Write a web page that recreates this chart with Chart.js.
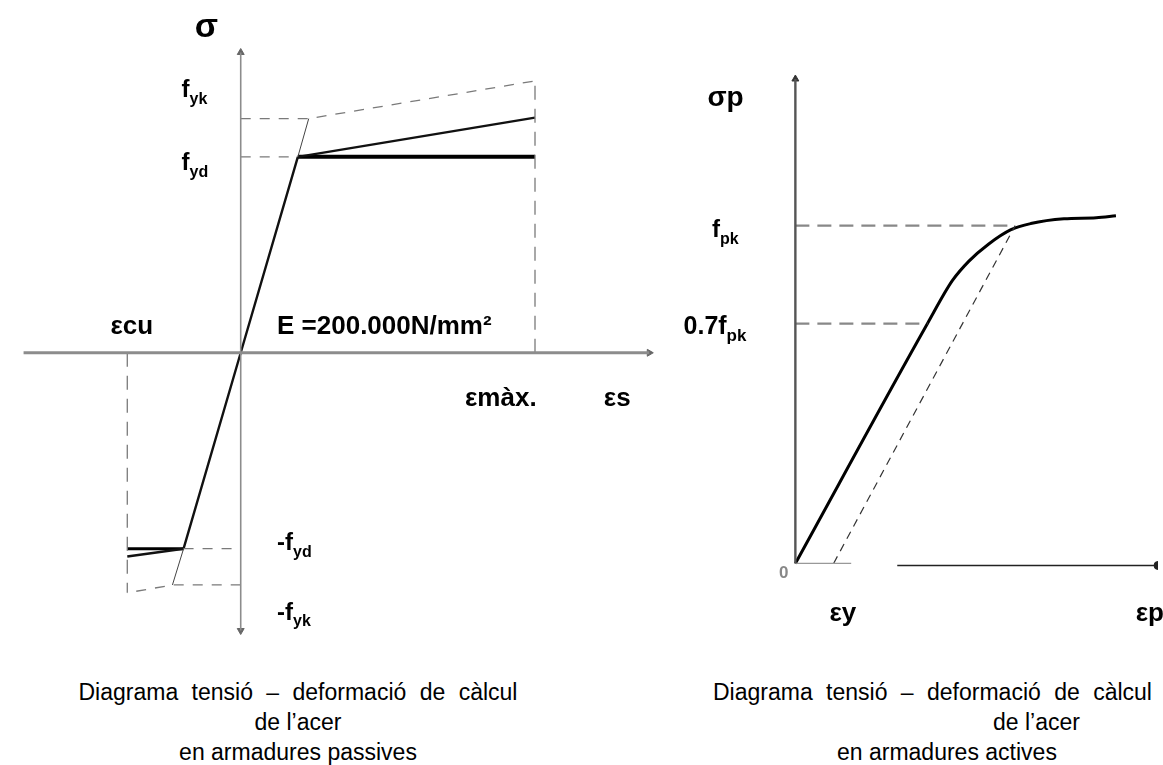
<!DOCTYPE html>
<html>
<head>
<meta charset="utf-8">
<script src="https://cdn.jsdelivr.net/npm/chart.js@4.4.1/dist/chart.umd.min.js"></script>
<style>
  body { margin: 0; background: #fff; width: 1163px; height: 765px; overflow: hidden; position: relative; }
  canvas { position: absolute; top: 0; }
  #passive { left: 0; }
  #active { left: 660px; }
  .cap { position: absolute; font-family: "Liberation Sans", Arial, sans-serif; font-size: 23px; color: #000;
         white-space: nowrap; line-height: 30px; }
  .wide { word-spacing: 7px; }
</style>
</head>
<body>
<canvas id="passive" width="660" height="660"></canvas>
<canvas id="active" width="503" height="660"></canvas>

<div class="cap wide" style="left:0;width:596px;text-align:center;top:677px">Diagrama tensió – deformació de càlcul</div>
<div class="cap" style="left:0;width:596px;text-align:center;top:707px">de l’acer</div>
<div class="cap" style="left:0;width:596px;text-align:center;top:737px">en armadures passives</div>
<div class="cap wide" style="left:713px;top:677px">Diagrama tensió – deformació de càlcul</div>
<div class="cap" style="left:993px;top:707px">de l’acer</div>
<div class="cap" style="left:837px;top:737px">en armadures actives</div>

<script>
// ---- passive steel (strain in ‰, stress in N/mm²) ----
const elasticX = [-2, 0, 2];
const elasticY = [-400, 0, 400];
const plateauX = [2, 10.3];
const plateauY = [400, 400];
const hardenX = [2, 10.3];
const hardenY = [400, 480];
const elasticExtX = [2, 2.38];
const elasticExtY = [400, 478];
const fykLineX = [0, 2.38, 10.3];
const fykLineY = [478, 478, 555];
const fydGuideX = [0, 2];
const fydGuideY = [400, 400];
const epsMaxGuideX = [10.3, 10.3];
const epsMaxGuideY = [0, 555];
const negPlateauX = [-2, -3.97];
const negPlateauY = [-400, -400];
const negHardenX = [-2, -3.97];
const negHardenY = [-400, -416];
const negElasticExtX = [-2, -2.39];
const negElasticExtY = [-400, -474];
const negFykLineX = [0, -2.39, -3.97];
const negFykLineY = [-474, -474, -490];
const negFydGuideX = [-2, 0];
const negFydGuideY = [-400, -400];
const epsCuGuideX = [-3.97, -3.97];
const epsCuGuideY = [0, -490];
const passiveAxisX = [-7.6, 14.3];
const passiveAxisY = [-567, 613];

const passiveLabels = ['σ', 'f_yk', 'f_yd', 'εcu', 'E =200.000N/mm²', 'εmàx.', 'εs', '-f_yd', '-f_yk'];
const passiveLabelX = [-1.2, -2.07, -2.07, -4.56, 1.27, 7.85, 12.71, 1.27, 1.27];
const passiveLabelY = [664, 535, 386, 52, 52, -95, -95, -390, -532];

// ---- active steel (strain in ‰, stress as fraction of fpk) ----
const curveX = [0, 6.92, 8.21, 9.08, 10.10, 11.28, 12.31, 14.05, 15.74, 16.77];
const curveY = [0, 0.711, 0.837, 0.895, 0.945, 0.988, 1.006, 1.020, 1.023, 1.029];
const offsetX = [2, 11.5];
const offsetY = [0, 1.0];
const fpkGuideX = [0, 11.5];
const fpkGuideY = [1.0, 1.0];
const f07GuideX = [0, 6.92];
const f07GuideY = [0.71, 0.71];
const activeAxisTop = 1.434;
const activeXAxisX = [5.33, 18.97];
const baseStubX = [0, 2.92];

const activeLabels = ['σp', 'f_pk', '0.7f_pk', '0', 'εy', 'εp'];
const activeLabelX = [-4.6, -4.36, -5.85, -0.85, 1.78, 17.8];
const activeLabelY = [1.376, 0.985, 0.70, -0.029, -0.149, -0.149];

const pts = (xs, ys) => xs.map((x, i) => ({ x: x, y: ys[i] }));

function line(xs, ys, color, width, dash) {
    return {
        data: pts(xs, ys),
        showLine: true,
        borderColor: color,
        borderWidth: width,
        borderDash: dash || [],
        pointRadius: 0,
        fill: false
    };
}

function arrows(xs, ys, rot, color, r) {
    return {
        data: pts(xs, ys),
        showLine: false,
        pointStyle: 'triangle',
        pointRotation: rot,
        pointRadius: r,
        backgroundColor: color,
        borderColor: color,
        borderWidth: 1
    };
}

// label text: "_" starts a subscript
function drawLabel(ctx, text, px, py, size, align, color) {
    const [main, sub] = text.split('_');
    const mainFont = 'bold ' + size + 'px "Liberation Sans"';
    const subFont = 'bold ' + Math.round(size * 0.66) + 'px "Liberation Sans"';
    ctx.font = mainFont;
    const w1 = ctx.measureText(main).width;
    ctx.font = subFont;
    const w2 = sub ? ctx.measureText(sub).width : 0;
    const x = align === 'center' ? px - (w1 + w2) / 2 : px;
    ctx.fillStyle = color || '#000';
    ctx.textBaseline = 'middle';
    ctx.textAlign = 'left';
    ctx.font = mainFont;
    ctx.fillText(main, x, py);
    if (sub) {
        ctx.font = subFont;
        ctx.fillText(sub, x + w1, py + size * 0.36);
    }
}

function labelPlugin(texts, xs, ys, opts) {
    return {
        id: 'labels',
        afterDatasetsDraw(chart) {
            const ctx = chart.ctx;
            ctx.save();
            texts.forEach((t, i) => {
                const o = opts[i] || {};
                drawLabel(ctx, t, chart.scales.x.getPixelForValue(xs[i]), chart.scales.y.getPixelForValue(ys[i]),
                    o.size || 24, o.align || 'left', o.color);
            });
            ctx.restore();
        }
    };
}

function baseOptions(xmin, xmax, ymin, ymax) {
    return {
        responsive: false,
        animation: false,
        devicePixelRatio: 1,
        layout: { padding: 0 },
        plugins: { legend: { display: false }, tooltip: { enabled: false } },
        scales: {
            x: { type: 'linear', min: xmin, max: xmax, display: false },
            y: { type: 'linear', min: ymin, max: ymax, display: false }
        }
    };
}

const dashGray = '#7a7a7a';

new Chart(document.getElementById('passive'), {
    type: 'scatter',
    data: {
        datasets: [
            line(passiveAxisX, [0, 0], '#8c8c8c', 3),
            line([0, 0], passiveAxisY, '#8c8c8c', 1.6),
            arrows([passiveAxisX[1], 0, 0], [0, passiveAxisY[1], passiveAxisY[0]], [90, 0, 180], '#666', 4),
            line(fykLineX, fykLineY, dashGray, 1.3, [10, 9]),
            line(fydGuideX, fydGuideY, dashGray, 1.3, [10, 9]),
            line(epsMaxGuideX, epsMaxGuideY, dashGray, 1.3, [14, 9]),
            line(negFykLineX, negFykLineY, dashGray, 1.3, [10, 9]),
            line(negFydGuideX, negFydGuideY, dashGray, 1.3, [10, 9]),
            line(epsCuGuideX, epsCuGuideY, dashGray, 1.3, [14, 9]),
            line(elasticExtX, elasticExtY, '#444', 1),
            line(negElasticExtX, negElasticExtY, '#444', 1),
            line(elasticX, elasticY, '#111', 2.4),
            line(hardenX, hardenY, '#111', 2.4),
            line(negHardenX, negHardenY, '#111', 2.4),
            line(plateauX, plateauY, '#000', 4),
            line(negPlateauX, negPlateauY, '#000', 3)
        ]
    },
    options: baseOptions(-8.25, 14.5, -617, 710),
    plugins: [labelPlugin(passiveLabels, passiveLabelX, passiveLabelY,
        [{ size: 34, align: 'center' }, {}, {}, { size: 26 }, { size: 26 }, { size: 26 }, { size: 26 }, {}, {}])]
});

new Chart(document.getElementById('active'), {
    type: 'scatter',
    data: {
        datasets: [
            line([0, 0], [0, activeAxisTop], '#555', 2.4),
            arrows([0], [activeAxisTop], [0], '#333', 4),
            line(activeXAxisX, [-0.006, -0.006], '#222', 1.6),
            {
                data: pts([activeXAxisX[1]], [-0.006]),
                showLine: false, pointRadius: 4, backgroundColor: '#222', borderColor: '#222'
            },
            line(baseStubX, [0, 0], '#999', 1.2),
            line(fpkGuideX, fpkGuideY, '#888', 2.4, [14, 8]),
            line(f07GuideX, f07GuideY, '#888', 2.4, [14, 8]),
            line(offsetX, offsetY, '#333', 1.2, [8, 6]),
            Object.assign(line(curveX, curveY, '#000', 3), { cubicInterpolationMode: 'monotone' })
        ]
    },
    options: baseOptions(-6.82, 18.97, -0.271, 1.653),
    plugins: [labelPlugin(activeLabels, activeLabelX, activeLabelY,
        [{ size: 28 }, {}, { size: 25 }, { size: 17, color: '#888' }, { size: 26 }, { size: 26 }])]
});
</script>
</body>
</html>
